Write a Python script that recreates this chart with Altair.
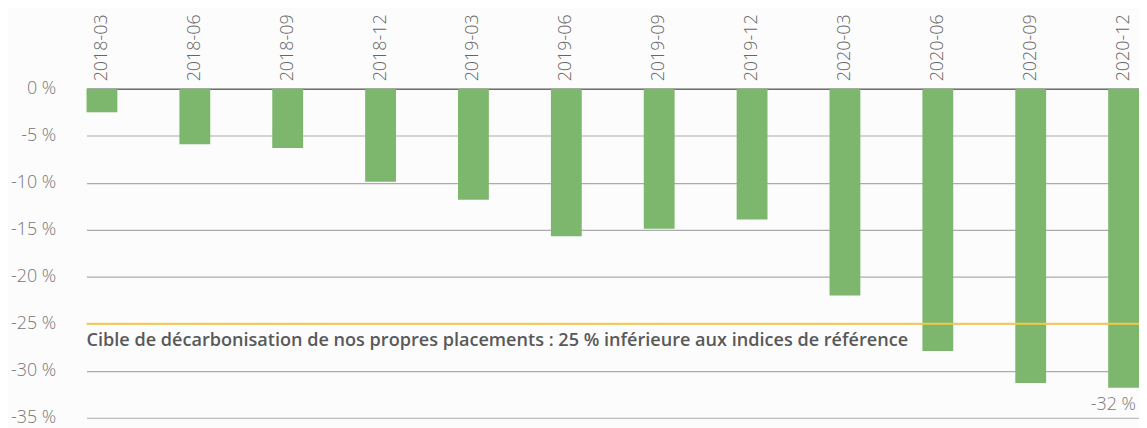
import altair as alt
import pandas as pd

periods = ["2018-03", "2018-06", "2018-09", "2018-12", "2019-03", "2019-06",
           "2019-09", "2019-12", "2020-03", "2020-06", "2020-09", "2020-12"]
values = [-2.5, -5.9, -6.3, -9.9, -11.8, -15.7, -14.9, -13.9, -22.0, -27.9, -31.3, -31.8]
target_value = [-25]
target_label = ["Cible de décarbonisation de nos propres placements : 25 % inférieure aux indices de référence"]
last_label = ["-32 %"]

df = pd.DataFrame({"period": periods, "value": values})
tgt = pd.DataFrame({"value": target_value, "label": target_label})
last = pd.DataFrame({"period": [periods[-1]], "value": [values[-1]], "label": last_label})

FONT = "Open Sans"

x_enc = alt.X("period:N", sort=periods,
              scale=alt.Scale(paddingInner=0.668, paddingOuter=0, round=False),
              axis=alt.Axis(orient="top", title=None, labelAngle=-90, labelPadding=8,
                            labelFontSize=18, labelColor="#666", labelFont=FONT,
                            labelFontWeight=300,
                            ticks=False, domainColor="#6f6f6f", domainWidth=1.5, grid=False))
y_scale = alt.Scale(domain=[-35, 0], nice=False)
y_axis = alt.Axis(title=None, values=[0, -5, -10, -15, -20, -25, -30, -35],
                  labelExpr="datum.value + ' %'",
                  labelFontSize=18, labelColor="#777", labelFont=FONT, labelFontWeight=300,
                  labelPadding=31,
                  ticks=False, domain=False, grid=True, gridColor="#ababab", gridWidth=1.2)

bars = alt.Chart(df).mark_bar(color="#7db66d").encode(
    x=x_enc,
    y=alt.Y("value:Q", scale=y_scale, axis=y_axis),
    y2=alt.datum(0),
)

rule = alt.Chart(tgt).mark_rule(color="#f7c948", strokeWidth=2.2).encode(
    y=alt.Y("value:Q", scale=y_scale),
    x=alt.value(0), x2=alt.value(1059),
)

note = alt.Chart(tgt).mark_text(align="left", baseline="middle", dy=17, fontSize=18.2,
                                fontWeight=600, color="#595959", font=FONT).encode(
    y=alt.Y("value:Q", scale=y_scale), x=alt.value(0), text="label:N")

lastlbl = alt.Chart(last).mark_text(align="right", baseline="middle", dy=17, dx=-3,
                                    fontSize=18, fontWeight=300, color="#777", font=FONT).encode(
    x=alt.X("period:N", sort=periods, bandPosition=1),
    y=alt.Y("value:Q", scale=y_scale), text="label:N")

chart = alt.layer(bars, rule, note, lastlbl).properties(
    width=1059, height=331,
    autosize=alt.AutoSizeParams(type="none"),
    padding={"left": 79, "top": 80, "right": 0, "bottom": 9},
    background="#fcfcfc",
).configure_view(stroke=None)

chart.save("out.html", embed_options={"renderer": "svg", "actions": False})
